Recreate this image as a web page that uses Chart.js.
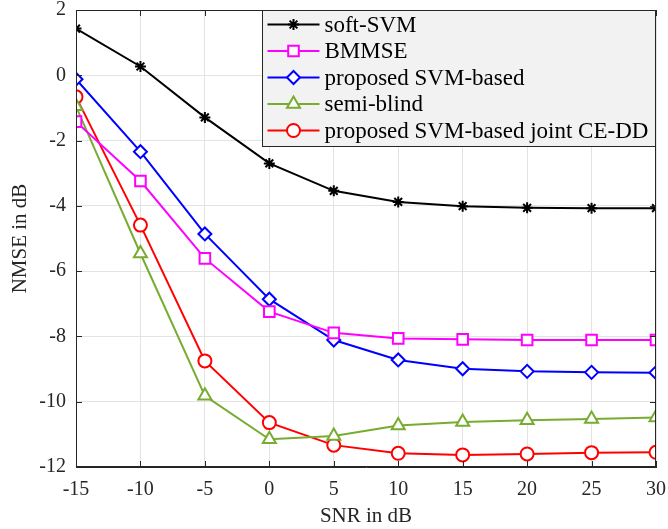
<!DOCTYPE html>
<html>
<head>
<meta charset="utf-8">
<script src="https://cdn.jsdelivr.net/npm/chart.js@4"></script>
<style>
  html, body { margin: 0; padding: 0; background: #fff; }
  #wrap { width: 668px; height: 529px; }
</style>
</head>
<body>
<div id="wrap"><canvas id="nmseChart" width="668" height="529"></canvas></div>
<script>
// SNR (dB) en el eje x
const snr = [-15, -10, -5, 0, 5, 10, 15, 20, 25, 30];
const yTicks = [2, 0, -2, -4, -6, -8, -10, -12];

// NMSE (dB)
const softSVM   = [1.43, 0.27, -1.29, -2.70, -3.54, -3.88, -4.01, -4.06, -4.07, -4.07];
const bmmse     = [-1.42, -3.24, -5.61, -7.24, -7.89, -8.06, -8.09, -8.11, -8.11, -8.11];
const svmBased  = [-0.12, -2.34, -4.86, -6.86, -8.11, -8.72, -8.99, -9.07, -9.10, -9.11];
const semiBlind = [-0.95, -5.46, -9.82, -11.15, -11.05, -10.73, -10.62, -10.57, -10.53, -10.48];
const jointCEDD = [-0.66, -4.59, -8.75, -10.64, -11.33, -11.58, -11.63, -11.60, -11.56, -11.55];

const FONT = "'Liberation Serif', 'Times New Roman', serif";
const AXIS_COLOR = '#262626';

function serie(label, values, color, pointStyle, radius) {
    return {
        label: label,
        data: snr.map((x, i) => ({ x: x, y: values[i] })),
        borderColor: color,
        backgroundColor: '#ffffff',
        pointBorderColor: color,
        pointBackgroundColor: '#ffffff',
        pointStyle: pointStyle,
        pointRadius: radius,
        pointBorderWidth: 2,
        borderWidth: 2,
        tension: 0,
        fill: false
    };
}

// marco completo del eje, ticks hacia dentro y leyenda tipo MATLAB
const matlabBox = {
    id: 'matlabBox',
    afterDraw(chart) {
        const ctx = chart.ctx;
        const a = chart.chartArea;
        const xs = chart.scales.x, ys = chart.scales.y;
        ctx.save();
        ctx.strokeStyle = AXIS_COLOR;
        ctx.lineWidth = 1;
        ctx.strokeRect(a.left + 0.5, a.top + 0.5, a.right - a.left - 1, a.bottom - a.top - 1);
        ctx.beginPath();
        snr.forEach(v => {
            const px = Math.round(xs.getPixelForValue(v)) + 0.5;
            ctx.moveTo(px, a.bottom); ctx.lineTo(px, a.bottom - 6);
            ctx.moveTo(px, a.top); ctx.lineTo(px, a.top + 6);
        });
        yTicks.forEach(v => {
            const py = Math.round(ys.getPixelForValue(v)) + 0.5;
            ctx.moveTo(a.left, py); ctx.lineTo(a.left + 6, py);
            ctx.moveTo(a.right, py); ctx.lineTo(a.right - 6, py);
        });
        ctx.stroke();

        // leyenda
        const bw = 393, bh = 136;
        const bx = Math.round(a.right) - bw - 0.5, by = Math.round(a.top) + 0.5;
        ctx.fillStyle = '#f2f2f2';
        ctx.fillRect(bx, by, bw, bh);
        ctx.strokeStyle = AXIS_COLOR;
        ctx.strokeRect(bx, by, bw, bh);
        ctx.font = '23px ' + FONT;
        ctx.textBaseline = 'middle';
        chart.data.datasets.forEach((ds, i) => {
            const cy = by + 14 + i * 26.5;
            ctx.strokeStyle = ds.borderColor;
            ctx.lineWidth = 2;
            ctx.beginPath();
            ctx.moveTo(bx + 5, cy); ctx.lineTo(bx + 57, cy);
            ctx.stroke();
            ctx.fillStyle = '#ffffff';
            Chart.helpers.drawPoint(ctx, {
                pointStyle: ds.pointStyle,
                radius: ds.pointRadius,
                borderWidth: 2,
                rotation: 0
            }, bx + 31, cy);
            ctx.fillStyle = '#000000';
            ctx.fillText(ds.label, bx + 62, cy + 1);
        });
        ctx.restore();
    }
};

const ctx = document.getElementById('nmseChart').getContext('2d');
new Chart(ctx, {
    type: 'line',
    data: {
        datasets: [
            serie('soft-SVM', softSVM, '#000000', 'star', 5.5),
            serie('BMMSE', bmmse, '#ff00ff', 'rect', 7.5),
            serie('proposed SVM-based', svmBased, '#0000ff', 'rectRot', 6.5),
            serie('semi-blind', semiBlind, '#77ac30', 'triangle', 7.5),
            serie('proposed SVM-based joint CE-DD', jointCEDD, '#ff0000', 'circle', 6.5)
        ]
    },
    options: {
        responsive: false,
        animation: false,
        layout: { padding: { top: 10, right: 12, left: 0, bottom: 0 } },
        plugins: {
            legend: { display: false },
            tooltip: { enabled: false }
        },
        scales: {
            x: {
                type: 'linear',
                min: -15,
                max: 30,
                afterBuildTicks: s => { s.ticks = snr.map(v => ({ value: v })); },
                afterFit: s => {
                    s.height = 62;
                    s.paddingLeft = 0;
                    s.paddingRight = 0;
                },
                grid: { color: '#e3e3e3', drawTicks: false },
                border: { color: AXIS_COLOR },
                ticks: {
                    padding: 11,
                    color: AXIS_COLOR,
                    font: { family: FONT, size: 20 },
                    maxRotation: 0
                },
                title: {
                    display: true,
                    text: 'SNR in dB',
                    color: AXIS_COLOR,
                    font: { family: FONT, size: 21 },
                    padding: { top: 0, bottom: 0 }
                }
            },
            y: {
                min: -12,
                max: 2,
                afterBuildTicks: s => { s.ticks = yTicks.map(v => ({ value: v })); },
                afterFit: s => {
                    s.width = 76;
                    s.paddingTop = 0;
                    s.paddingBottom = 0;
                },
                grid: { color: '#e3e3e3', drawTicks: false },
                border: { color: AXIS_COLOR },
                ticks: {
                    padding: 10,
                    color: AXIS_COLOR,
                    font: { family: FONT, size: 20 }
                },
                title: {
                    display: true,
                    text: 'NMSE in dB',
                    color: AXIS_COLOR,
                    font: { family: FONT, size: 21 },
                    padding: { top: 8, bottom: 0 }
                }
            }
        }
    },
    plugins: [matlabBox]
});
</script>
</body>
</html>
